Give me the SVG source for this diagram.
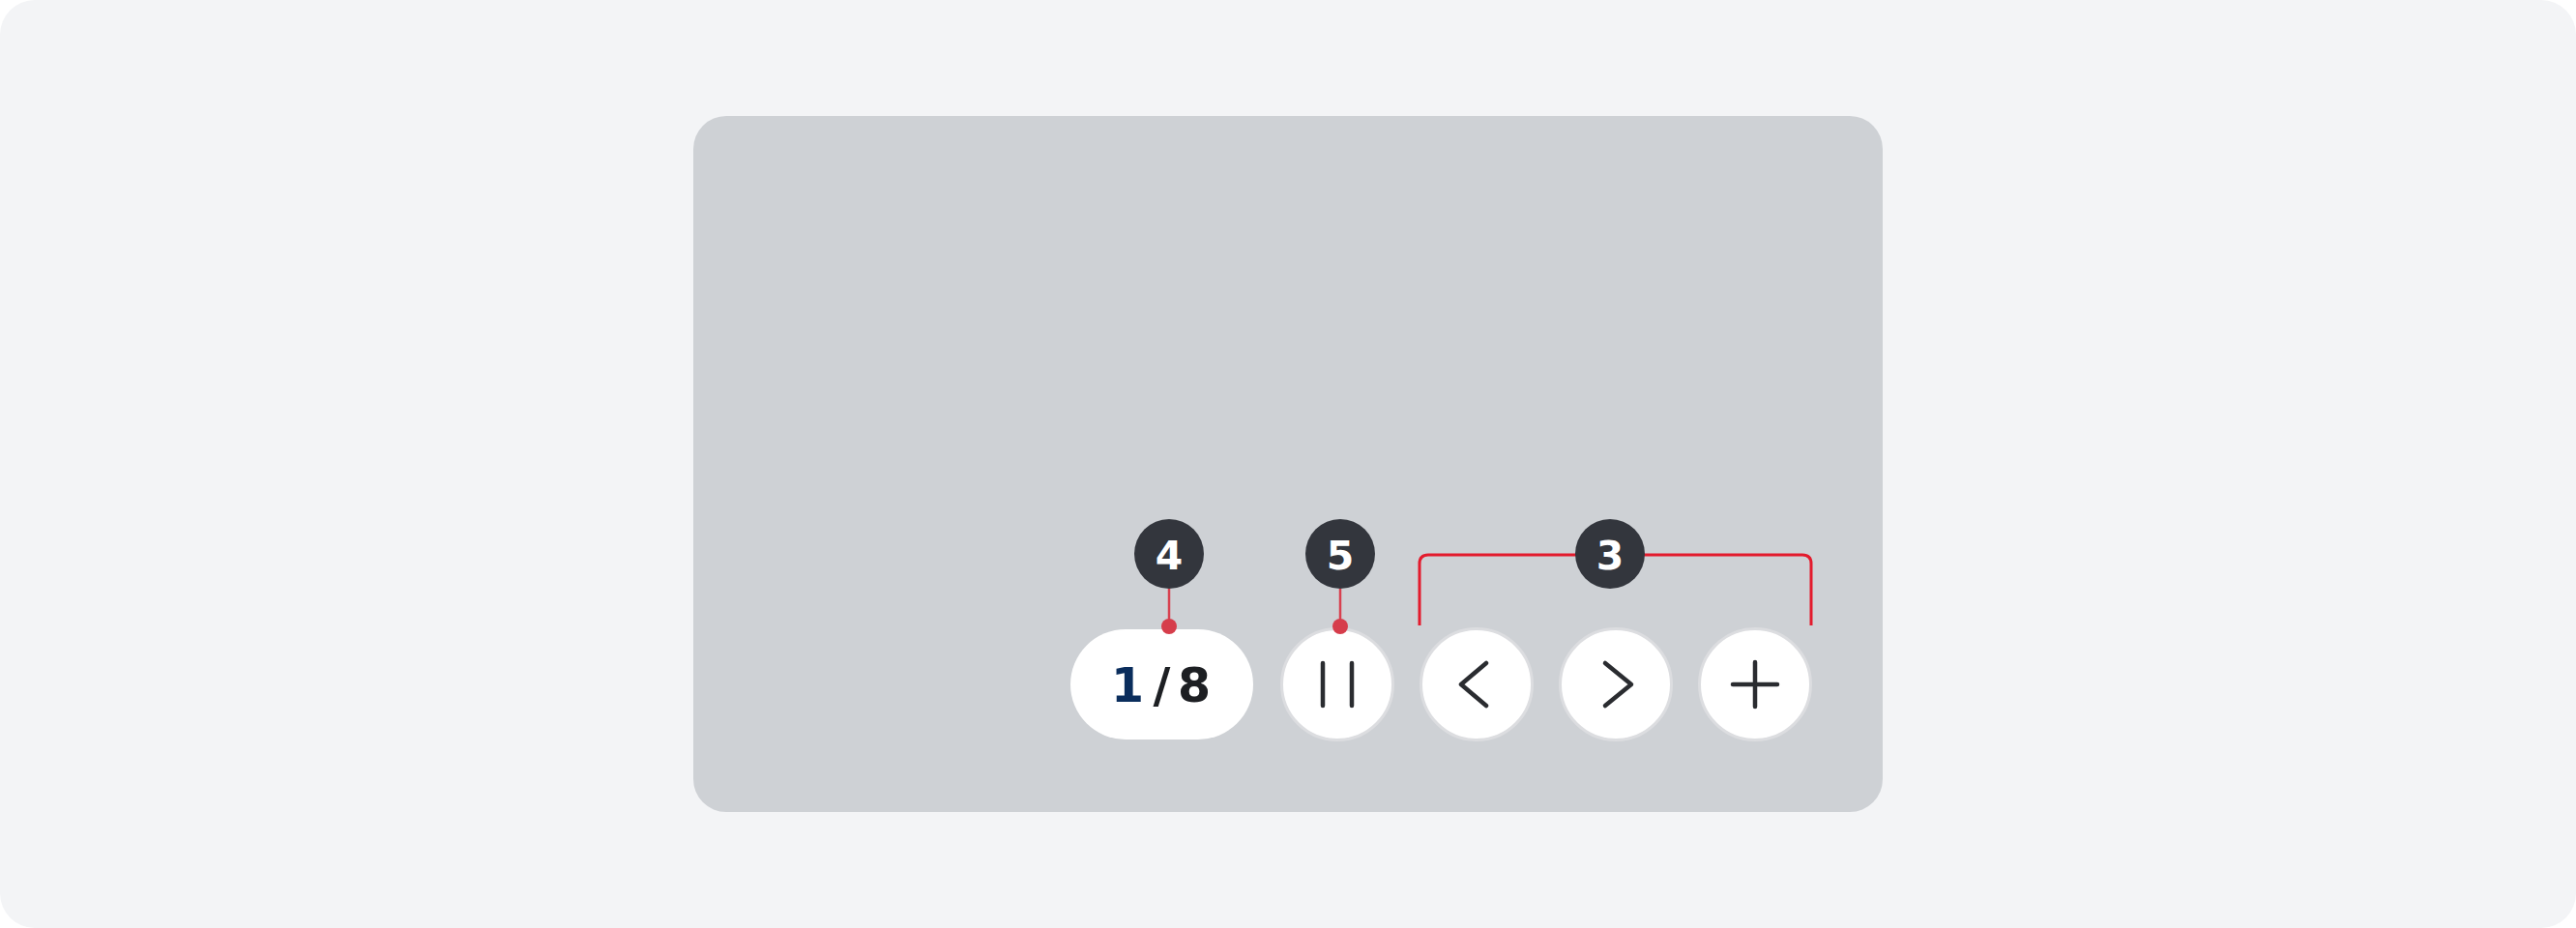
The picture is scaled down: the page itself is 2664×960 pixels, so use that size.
<svg xmlns="http://www.w3.org/2000/svg" width="2664" height="960" viewBox="0 0 2664 960">
<style>
.btn{fill:#ffffff;stroke:#dcdde0;stroke-width:3}
.ico{fill:none;stroke:#2a2c30;stroke-width:4.5;stroke-linecap:round;stroke-linejoin:round}
.badge{fill:#33363d}
.bnum{font-family:"DejaVu Sans",sans-serif;font-weight:bold;font-size:41px;fill:#ffffff;text-anchor:middle}
.lead{stroke:#d8404f;stroke-width:2.5;fill:none}
.dot{fill:#d63d4b}
.cnt{font-family:"DejaVu Sans",sans-serif;font-weight:bold;font-size:49px;text-anchor:middle}
</style>
<rect id="background" x="0" y="0" width="2664" height="960" rx="36" fill="#f3f4f6"/>
<rect id="viewer" x="717" y="120" width="1230" height="720" rx="34" fill="#ced1d5"/>
<g id="connectors">
<path d="M1468 647 V583 Q1468 574 1477 574 H1864 Q1873 574 1873 583 V647" fill="none" stroke="#e31b2d" stroke-width="3"/>
<line class="lead" x1="1209" y1="609" x2="1209" y2="648"/>
<line class="lead" x1="1386" y1="609" x2="1386" y2="648"/>
</g>
<g id="counter">
<rect x="1107" y="651" width="189" height="114" rx="57" fill="#ffffff"/>
<text class="cnt" y="726"><tspan x="1166" fill="#0a2d5c">1</tspan><tspan x="1201.5" fill="#1d1f23">/</tspan><tspan x="1235" fill="#1d1f23">8</tspan></text>
</g>
<g id="pause">
<circle class="btn" cx="1383" cy="708" r="57.5"/>
<line class="ico" x1="1368" y1="686" x2="1368" y2="730"/>
<line class="ico" x1="1398" y1="686" x2="1398" y2="730"/>
</g>
<g id="prev">
<circle class="btn" cx="1527" cy="708" r="57.5"/>
<polyline class="ico" points="1537,686 1511,708 1537,730"/>
</g>
<g id="next">
<circle class="btn" cx="1671" cy="708" r="57.5"/>
<polyline class="ico" points="1660,686 1687,708 1660,730"/>
</g>
<g id="add">
<circle class="btn" cx="1815" cy="708" r="57.5"/>
<line class="ico" x1="1792" y1="708" x2="1838" y2="708"/>
<line class="ico" x1="1815" y1="685" x2="1815" y2="731"/>
</g>
<g id="dots">
<circle class="dot" cx="1209" cy="648" r="8"/>
<circle class="dot" cx="1386" cy="648" r="8"/>
</g>
<g id="badge-4">
<circle class="badge" cx="1209" cy="573" r="36"/>
<text class="bnum" x="1209" y="589">4</text>
</g>
<g id="badge-5">
<circle class="badge" cx="1386" cy="573" r="36"/>
<text class="bnum" x="1386" y="589">5</text>
</g>
<g id="badge-3">
<circle class="badge" cx="1665" cy="573" r="36"/>
<text class="bnum" x="1665" y="589">3</text>
</g>
</svg>
